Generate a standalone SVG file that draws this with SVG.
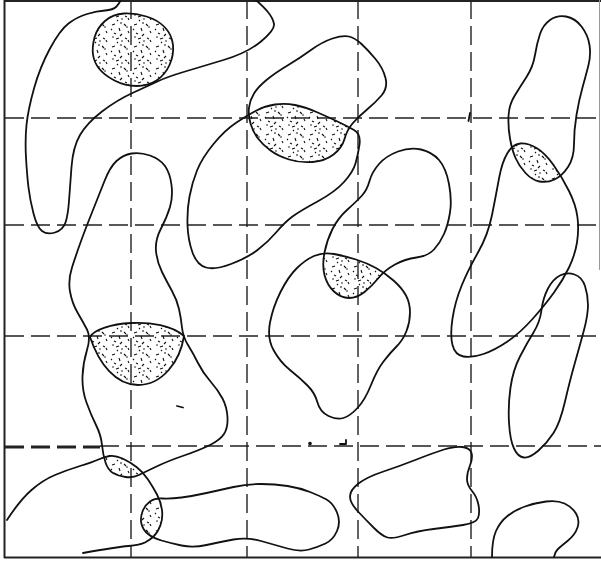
<svg xmlns="http://www.w3.org/2000/svg" xmlns:xlink="http://www.w3.org/1999/xlink" width="601" height="561" viewBox="0 0 601 561">
<style>
.o{fill:none;stroke:#111;stroke-width:1.8;stroke-linejoin:round;stroke-linecap:round}
.g{fill:none;stroke:#222;stroke-width:1.4;stroke-dasharray:19 7}
.s{fill:url(#stip);stroke:none}
.f{fill:none;stroke:#222;stroke-width:2}
</style>
<defs>
<pattern id="stip" width="22" height="22" patternUnits="userSpaceOnUse">
<path d="M2,3 l3,-1 M9,6 l1,3 M14,2 l2,2 M4,11 l2,1 M12,12 l-2,2 M18,9 l1,2 M6,17 l3,-1 M15,16 l2,1 M1,7 l1,1 M10,1 l2,0 M19,20 l-1,-2 M7,21 l1,-1" stroke="#111" stroke-width="1.1" fill="none"/>
<circle cx="17" cy="5" r="0.8" fill="#111"/><circle cx="3" cy="15" r="0.8" fill="#111"/><circle cx="12" cy="19" r="0.8" fill="#111"/>
</pattern>
<path id="pB2" d="M349,36.5 Q343,35 332.5,38.5 Q322,42 311,50 Q300,58 287.5,65.5 Q275,73 266.5,80 Q258,87 254,93.5 Q250,100 249,107.5 Q248,115 250.5,123.5 Q253,132 258,138.5 Q263,145 270.5,150.5 Q278,156 289,159.5 Q300,163 312.5,162 Q325,161 333.5,154.5 Q342,148 344.5,139 Q347,130 352.5,123.5 Q358,117 366.5,110 Q375,103 381.5,95.5 Q388,88 385.5,78 Q383,68 375.5,59 Q368,50 361.5,44 Q355,38 349,36.5 Z"/>
<path id="pB" d="M236.5,122.5 Q248,115 256.5,110.5 Q265,106 275,104.5 Q285,103 295,105 Q305,107 316.5,112 Q328,117 337.5,121.5 Q347,126 354,130 Q361,134 359.5,144.5 Q358,155 355.5,163.5 Q353,172 344,182 Q335,192 317.5,201.5 Q300,211 292.5,216.5 Q285,222 276.5,232 Q268,242 257.5,250 Q247,258 231,264 Q215,270 206,267.5 Q197,265 192.5,252.5 Q188,240 187.5,225 Q187,210 189.5,196.5 Q192,183 197,170.5 Q202,158 213.5,144 Q225,130 236.5,122.5 Z"/>
<path id="pC" d="M398,151.5 Q410,147 421,149.5 Q432,152 439,160 Q446,168 449,184 Q452,200 450,212.5 Q448,225 444,234 Q440,243 434,249.5 Q428,256 416.5,257.5 Q405,259 395,264.5 Q385,270 378.5,278 Q372,286 364.5,292 Q357,298 349,298 Q341,298 334,291.5 Q327,285 324.5,275 Q322,265 324.5,252.5 Q327,240 332.5,229 Q338,218 347.5,209.5 Q357,201 362,195.5 Q367,190 369.5,181 Q372,172 379,164 Q386,156 398,151.5 Z"/>
<path id="pD" d="M314,256 Q323,252 334,254 Q345,256 356,259.5 Q367,263 376,268 Q385,273 393.5,280.5 Q402,288 406,295.5 Q410,303 410,312.5 Q410,322 406.5,331 Q403,340 396.5,346.5 Q390,353 383.5,361.5 Q377,370 371,385 Q365,400 357.5,408 Q350,416 343.5,418 Q337,420 328.5,416 Q320,412 317.5,402.5 Q315,393 307.5,385.5 Q300,378 290,370 Q280,362 273.5,350 Q267,338 270,322.5 Q273,307 280.5,292 Q288,277 296.5,268.5 Q305,260 314,256 Z"/>
<path id="pE" d="M550,20 Q557,15 566,16.5 Q575,18 581.5,26.5 Q588,35 589.5,45 Q591,55 588.5,65 Q586,75 582.5,87.5 Q579,100 576.5,115 Q574,130 574,144 Q574,158 568,167 Q562,176 554.5,179.5 Q547,183 539.5,181.5 Q532,180 525.5,173 Q519,166 515.5,158 Q512,150 510,138.5 Q508,127 508.5,116 Q509,105 514.5,96 Q520,87 526.5,77 Q533,67 535,55 Q537,43 540,34 Q543,25 550,20 Z"/>
<path id="pF" d="M507.5,153 Q513,144 520.5,143.5 Q528,143 536.5,148 Q545,153 553.5,165 Q562,177 569,191 Q576,205 577.5,217.5 Q579,230 577,242.5 Q575,255 569,267.5 Q563,280 554,292.5 Q545,305 532.5,319 Q520,333 507.5,341.5 Q495,350 483.5,354 Q472,358 463.5,356.5 Q455,355 452.5,345 Q450,335 452.5,318.5 Q455,302 461.5,286 Q468,270 478,252.5 Q488,235 492,215 Q496,195 499,178.5 Q502,162 507.5,153 Z"/>
<path id="pK" d="M131.5,153.5 Q140,152 150,155.5 Q160,159 165,166 Q170,173 171.5,185 Q173,197 170,207 Q167,217 161,228.5 Q155,240 156,251 Q157,262 162,272 Q167,282 172,291 Q177,300 179,309 Q181,318 182,327.5 Q183,337 188,345 Q193,353 198,363 Q203,373 210.5,381.5 Q218,390 222.5,398.5 Q227,407 227.5,417.5 Q228,428 224,434 Q220,440 210,445 Q200,450 184,455.5 Q168,461 156.5,466.5 Q145,472 139,475 Q133,478 125.5,477 Q118,476 113,473 Q108,470 105.5,462.5 Q103,455 102,445 Q101,435 96,425 Q91,415 86.5,402.5 Q82,390 82.5,376.5 Q83,363 87,350 Q91,337 87,329.5 Q83,322 77.5,312.5 Q72,303 70,291.5 Q68,280 72,267.5 Q76,255 80.5,242.5 Q85,230 92,212.5 Q99,195 104.5,181 Q110,167 116.5,161 Q123,155 131.5,153.5 Z"/>
<path id="pJ" d="M150,501.5 Q155,498 162.5,498.5 Q170,499 181.5,497.5 Q193,496 206.5,493 Q220,490 233.5,487 Q247,484 261,484 Q275,484 287.5,486 Q300,488 310,492 Q320,496 326.5,499.5 Q333,503 337,512.5 Q341,522 337,531 Q333,540 325.5,543.5 Q318,547 309,549.5 Q300,552 287.5,548.5 Q275,545 261,541 Q247,537 233.5,539.5 Q220,542 206.5,545 Q193,548 181.5,545.5 Q170,543 161.5,540.5 Q153,538 148,534 Q143,530 141.5,524 Q140,518 142.5,511.5 Q145,505 150,501.5 Z"/>
<path id="pL" d="M7,520 Q20,500 31.5,490 Q43,480 55,475 Q67,470 80,466 Q93,462 98.5,459.5 Q104,457 109.5,456 Q115,455 122.5,458.5 Q130,462 136.5,467 Q143,472 148,479.5 Q153,487 157,494.5 Q161,502 162,510 Q163,518 160.5,525 Q158,532 154,536 Q150,540 145,542.5 Q140,545 128.5,546 Q117,547 83,553"/>
<clipPath id="cB"><use xlink:href="#pB"/></clipPath>
<clipPath id="cD"><use xlink:href="#pD"/></clipPath>
<clipPath id="cF"><use xlink:href="#pF"/></clipPath>
<clipPath id="cL"><path d="M7,520 Q20,500 31.5,490 Q43,480 55,475 Q67,470 80,466 Q93,462 98.5,459.5 Q104,457 109.5,456 Q115,455 122.5,458.5 Q130,462 136.5,467 Q143,472 148,479.5 Q153,487 157,494.5 Q161,502 162,510 Q163,518 160.5,525 Q158,532 154,536 Q150,540 145,542.5 Q140,545 128.5,546 Q117,547 83,553 L83,600 L-10,600 L-10,520 Z"/></clipPath>
</defs>
<rect x="0" y="0" width="601" height="561" fill="#fff"/>
<g id="grid">
<path class="g" d="M131,0 V557 M247,0 V557 M358,0 V557 M471,0 V557"/>
<path class="g" d="M5,118 H601 M5,225 H601 M5,336 H601 M100,446 H601"/>
<path class="g" d="M5,447 H100" style="stroke-width:3"/>
</g>
<g id="frame">
<path class="f" d="M4,1 H601 M4.5,0 V558 M4,557.5 H601"/>
<path d="M599.5,0 V270" stroke="#999" stroke-width="1" fill="none"/>
</g>
<g id="stipples">
<use xlink:href="#pB2" class="s" clip-path="url(#cB)"/>
<use xlink:href="#pC" class="s" clip-path="url(#cD)"/>
<use xlink:href="#pE" class="s" clip-path="url(#cF)"/>
<use xlink:href="#pK" class="s" clip-path="url(#cL)"/>
<use xlink:href="#pJ" class="s" clip-path="url(#cL)"/>
</g>
<g id="cellA"><path class="o" d="M123,-5 Q120,3 116.5,6.5 Q113,10 105,10.5 Q97,11 87,14 Q77,17 68.5,23.5 Q60,30 50,48.5 Q40,67 34,88.5 Q28,110 26.5,125 Q25,140 26,157.5 Q27,175 28.5,187.5 Q30,200 33.5,213.5 Q37,227 42,231 Q47,235 55,232.5 Q63,230 65.5,222.5 Q68,215 69,201 Q70,187 71.5,167 Q73,147 80,135 Q87,123 102,111.5 Q117,100 133.5,92.5 Q150,85 158.5,81 Q167,77 183.5,72 Q200,67 223.5,60 Q247,53 261,41.5 Q275,30 274,24 Q273,18 267.5,11.5 Q262,5 250,-5"/></g>
<g id="nucleus1"><path class="o" style="fill:url(#stip)" d="M93,54.5 Q92,47 94.5,37.5 Q97,28 105,21 Q113,14 124,13.5 Q135,13 146.5,16.5 Q158,20 165,27.5 Q172,35 173,45 Q174,55 169.5,65 Q165,75 156.5,80.5 Q148,86 136.5,86 Q125,86 114.5,80.5 Q104,75 99,68.5 Q94,62 93,54.5 Z"/></g>
<g id="cellB2"><use xlink:href="#pB2" class="o"/></g>
<g id="cellB"><use xlink:href="#pB" class="o"/></g>
<g id="cellC"><use xlink:href="#pC" class="o"/></g>
<g id="cellD"><use xlink:href="#pD" class="o"/></g>
<g id="cellE"><use xlink:href="#pE" class="o"/></g>
<g id="cellF"><use xlink:href="#pF" class="o"/></g>
<g id="cellG"><path class="o" d="M560,275.5 Q567,272 574.5,274.5 Q582,277 585,286 Q588,295 588,305 Q588,315 584,330 Q580,345 575,362.5 Q570,380 565,401.5 Q560,423 553.5,433 Q547,443 538.5,450.5 Q530,458 524,457.5 Q518,457 514,448.5 Q510,440 509,422.5 Q508,405 510.5,387.5 Q513,370 520,356.5 Q527,343 533.5,332.5 Q540,322 541.5,310 Q543,298 548,288.5 Q553,279 560,275.5 Z"/></g>
<g id="cellH"><path class="o" d="M350,496.5 Q350,490 358.5,483.5 Q367,477 383.5,471.5 Q400,466 416.5,459.5 Q433,453 444,449.5 Q455,446 462.5,447 Q470,448 471.5,453 Q473,458 470,465.5 Q467,473 467,479 Q467,485 472,491 Q477,497 478.5,505 Q480,513 478,518 Q476,523 463,525 Q450,527 433.5,529 Q417,531 405,535 Q393,539 387.5,537.5 Q382,536 374,528 Q366,520 358,511.5 Q350,503 350,496.5 Z"/></g>
<g id="cellI"><path class="o" d="M492,557 Q492,540 496,531 Q500,522 507.5,516 Q515,510 525,506.5 Q535,503 546,501.5 Q557,500 564.5,503.5 Q572,507 576,513.5 Q580,520 577.5,527.5 Q575,535 567.5,541 Q560,547 557.5,549.5 Q555,552 554,557"/></g>
<g id="cellK"><use xlink:href="#pK" class="o"/></g>
<g id="nucleusK"><path class="o" style="fill:url(#stip)" d="M90,337 C98,322 160,315 184,336 C180,362 162,385 138,385 C116,385 99,364 90,337 Z"/></g>
<g id="cellJ"><use xlink:href="#pJ" class="o"/></g>
<g id="curveL"><use xlink:href="#pL" class="o"/></g>
<g id="marks">
<path class="o" d="M177,406 l6,1.5 M340,444 l6,0 l0,-4 M470,113 l-1.5,8"/>
<circle cx="310" cy="443.5" r="1.8" fill="#111"/>
</g>
</svg>
